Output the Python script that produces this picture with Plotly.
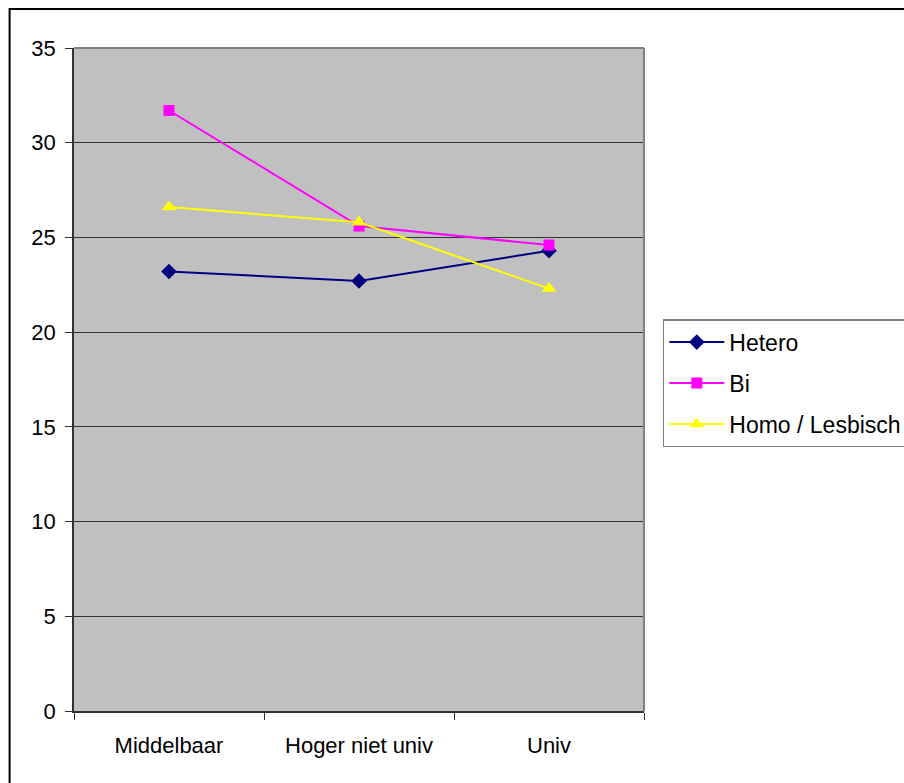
import plotly.graph_objects as go

categories = ['Middelbaar', 'Hoger niet univ', 'Univ']
hetero = [23.2, 22.7, 24.3]
bi = [31.7, 25.6, 24.6]
homo = [26.6, 25.8, 22.3]

font = dict(family='Liberation Sans, Arial, sans-serif', size=22, color='black')

fig = go.Figure()
fig.add_trace(go.Scatter(
    x=categories, y=hetero, name='Hetero', mode='lines+markers',
    line=dict(color='#000080', width=2),
    marker=dict(symbol='diamond', size=12, color='#000080'),
    legendgroup='a'
))
fig.add_trace(go.Scatter(
    x=categories, y=bi, name='Bi', mode='lines+markers',
    line=dict(color='#FF00FF', width=2),
    marker=dict(symbol='square', size=11, color='#FF00FF'),
    legendgroup='b'
))
fig.add_trace(go.Scatter(
    x=categories, y=homo, name='Homo / Lesbisch', mode='lines+markers',
    line=dict(color='#FFFF00', width=2),
    marker=dict(symbol='triangle-up', size=13, color='#FFFF00'),
    legendgroup='c'
))

fig.update_layout(
    width=904,
    height=783,
    margin=dict(l=74, r=260, t=48, b=72, autoexpand=False),
    paper_bgcolor='white',
    plot_bgcolor='#C0C0C0',
    font=font,
    showlegend=True,
    legend=dict(
        x=1.033, y=0.591, xanchor='left', yanchor='top',
        bordercolor='#808080', borderwidth=1.5,
        bgcolor='white', font=dict(font, size=23),
        tracegroupgap=8, itemwidth=55,
    ),
    xaxis=dict(
        type='category', range=[-0.5, 2.5],
        showgrid=False, zeroline=False,
        showline=True, linecolor='#333333', linewidth=1.5,
        ticks='outside', ticklen=7, tickcolor='#333333',
        tickson='boundaries', ticklabelstandoff=14,
    ),
    yaxis=dict(
        range=[0, 35], dtick=5,
        showgrid=True, gridcolor='#333333', gridwidth=1,
        zeroline=False,
        showline=True, linecolor='#333333', linewidth=1.5,
        ticks='outside', ticklen=7, tickcolor='#333333',
        ticklabelstandoff=5,
    ),
    shapes=[
        # outer chart border (only top and left visible in the crop)
        dict(type='rect', xref='paper', yref='paper',
             x0=-0.113, x1=3, y0=-3, y1=1.0588,
             line=dict(color='black', width=2)),
        # plot frame top and right
        dict(type='line', xref='paper', yref='paper', layer='above',
             x0=0, x1=1, y0=1, y1=1, line=dict(color='#808080', width=2)),
        dict(type='line', xref='paper', yref='paper', layer='above',
             x0=1, x1=1, y0=0, y1=1, line=dict(color='#808080', width=2)),
    ],
)

fig.write_html('out.html', config={'displayModeBar': False},
               post_script="document.body.style.margin='0';")
